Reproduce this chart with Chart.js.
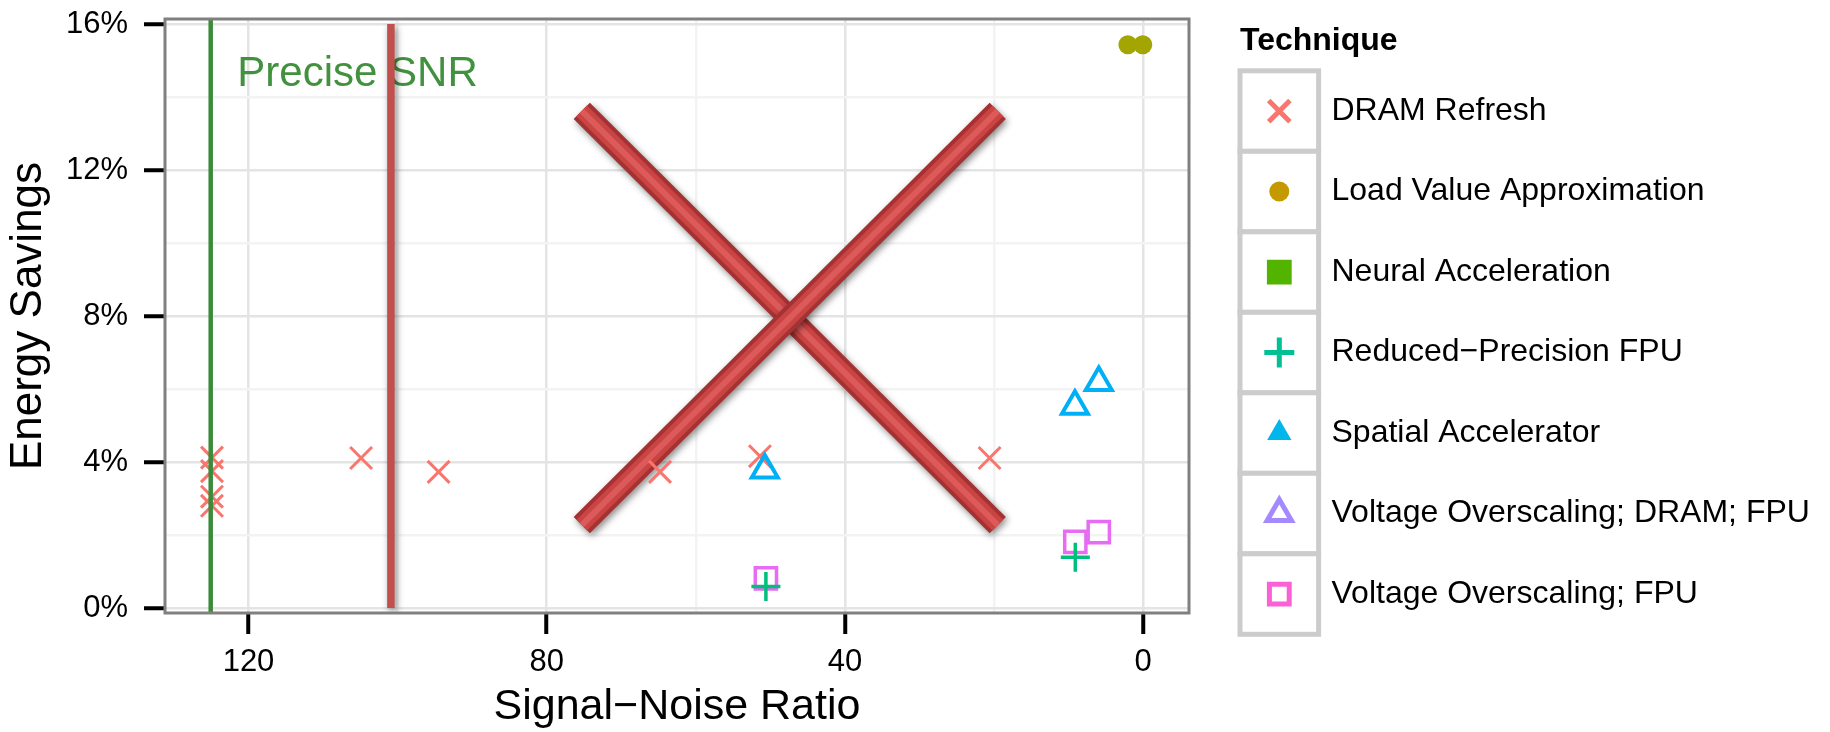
<!DOCTYPE html>
<html>
<head>
<meta charset="utf-8">
<script src="https://cdn.jsdelivr.net/npm/chart.js@4.4.0/dist/chart.umd.min.js"></script>
<style>
  html, body { margin: 0; padding: 0; background: #fff; }
  #wrap { width: 1830px; height: 732px; }
</style>
</head>
<body>
<div id="wrap"><canvas id="chart" width="1830" height="732"></canvas></div>
<script>
// values (x = SNR, y = energy savings in %)
const dramX = [124.9, 124.9, 124.9, 124.9, 104.9, 94.5, 64.8, 51.4, 20.6];
const dramY = [4.12, 3.75, 3.05, 2.8, 4.11, 3.73, 3.73, 4.16, 4.11];
const lvaX = [2.05, 0.05];
const lvaY = [15.43, 15.43];
const fpuX = [50.6, 9.1];
const fpuY = [0.59, 1.39];
const spatialX = [50.75, 9.15, 5.95];
const spatialY = [3.78, 5.53, 6.18];
const voFpuX = [50.6, 9.1, 5.95];
const voFpuY = [0.81, 1.81, 2.08];

// reference lines and the crossed-out overlay
const preciseSnr = 125.07;
const cutoffSnr = 100.9;
const cutoffY = [0, 16];
const armAX = [75.3, 19.5];
const armAY = [13.62, 2.27];
const armBX = [19.5, 75.3];
const armBY = [13.62, 2.27];
const noteX = 121.5;
const noteY = 14.3;

// axes
const xMin = -6.15, xMax = 131.2;
const yMin = -0.136, yMax = 16.136;
const xTicks = [120, 80, 40, 0];
const xMinor = [100, 60, 20];
const yTicks = [0, 4, 8, 12, 16];
const yMinor = [2, 6, 10, 14];

// legend
const legendLabels = [
  "DRAM Refresh",
  "Load Value Approximation",
  "Neural Acceleration",
  "Reduced\u2212Precision FPU",
  "Spatial Accelerator",
  "Voltage Overscaling; DRAM; FPU",
  "Voltage Overscaling; FPU",
];
const legendColors = ["#F8766D", "#C49A00", "#53B400", "#00C094", "#00B6EB", "#A58AFF", "#FB61D7"];
const legendShapes = ["crossRot", "circle", "rect", "cross", "triangle", "triangle", "rect"];
const legendFilled = [false, true, true, false, true, false, false];

const FONT = "'Liberation Sans', Arial, Helvetica, sans-serif";
Chart.defaults.font.family = FONT;
Chart.defaults.color = "#000";

const pts = (xs, ys) => xs.map((x, i) => ({ x: x, y: ys[i] }));

function lineSet(data, color, width, order, shadow) {
  return {
    data: data,
    showLine: true,
    borderColor: color,
    borderWidth: width,
    borderCapStyle: "butt",
    pointRadius: 0,
    pointHoverRadius: 0,
    fill: false,
    tension: 0,
    order: order,
    shadow: shadow,
  };
}

function pointSet(data, style, color, fill, radius, width, order) {
  return {
    data: data,
    pointStyle: style,
    pointRadius: radius,
    pointHoverRadius: radius,
    pointBorderWidth: width,
    borderColor: color,
    backgroundColor: fill,
    pointBackgroundColor: fill,
    pointBorderColor: color,
    order: order,
  };
}

const panelPlugin = {
  id: "panel",
  beforeDatasetsDraw(chart) {
    const c = chart.ctx;
    const x = chart.scales.x, y = chart.scales.y;
    c.save();
    c.fillStyle = "#41913f";
    c.font = "42px " + FONT;
    c.textBaseline = "alphabetic";
    c.textAlign = "left";
    c.fillText("Precise SNR", x.getPixelForValue(noteX), y.getPixelForValue(noteY));
    c.restore();
  },
  beforeDatasetDraw(chart, args) {
    const ds = chart.data.datasets[args.index];
    if (ds.shadow) {
      const c = chart.ctx;
      c.save();
      c.shadowColor = "rgba(0,0,0,0.45)";
      c.shadowBlur = 7;
      c.shadowOffsetX = 2;
      c.shadowOffsetY = 3;
    }
  },
  afterDatasetDraw(chart, args) {
    const ds = chart.data.datasets[args.index];
    if (ds.shadow) chart.ctx.restore();
  },
  afterDatasetsDraw(chart) {
    const c = chart.ctx;
    const a = chart.chartArea;
    c.save();
    c.strokeStyle = "#808080";
    c.lineWidth = 3;
    c.strokeRect(a.left, a.top, a.right - a.left, a.bottom - a.top);
    c.restore();
  },
  afterDraw(chart) {
    const c = chart.ctx;
    c.save();
    c.fillStyle = "#000";
    c.font = "bold 32px " + FONT;
    c.textBaseline = "alphabetic";
    c.fillText("Technique", 1240, 50);
    const cellTop = 70.8, cellH = 80.5, cellL = 1240, cellW = 78.6;
    for (let i = 0; i < legendLabels.length; i++) {
      const top = cellTop + i * cellH;
      c.fillStyle = "#fff";
      c.fillRect(cellL, top, cellW, cellH);
      c.strokeStyle = "#cccccc";
      c.lineWidth = 5;
      c.strokeRect(cellL, top, cellW, cellH);
    }
    for (let i = 0; i < legendLabels.length; i++) {
      const cy = cellTop + i * cellH + cellH / 2;
      const cx = cellL + cellW / 2;
      const shape = legendShapes[i];
      c.strokeStyle = legendColors[i];
      c.fillStyle = legendFilled[i] ? legendColors[i] : "rgba(0,0,0,0)";
      let r = 14, bw = 3;
      if (shape === "circle") { r = 10; bw = 0; }
      if (shape === "crossRot") { r = 15; bw = 3; }
      if (shape === "cross") { r = 15; bw = 3.5; }
      if (shape === "triangle" && legendFilled[i]) { r = 14; bw = 0; }
      Chart.helpers.drawPoint(c, { pointStyle: shape, rotation: 0, radius: r, borderWidth: bw }, cx, cy);
      c.fillStyle = "#000";
      c.font = "32px " + FONT;
      c.textBaseline = "middle";
      c.fillText(legendLabels[i], 1331.5, cy);
    }
    c.restore();
  },
};

const ctx = document.getElementById("chart").getContext("2d");

new Chart(ctx, {
  type: "scatter",
  data: {
    datasets: [
      lineSet(pts([preciseSnr, preciseSnr], [yMin, yMax]), "#3b8b3b", 4.5, 0, false),
      pointSet(pts(fpuX, fpuY), "cross", "#00BF7D", "rgba(0,0,0,0)", 14.5, 3.5, 1),
      pointSet(pts(voFpuX, voFpuY), "rect", "#E76BF3", "rgba(0,0,0,0)", 15, 3.5, 2),
      pointSet(pts(spatialX, spatialY), "triangle", "#00B0F6", "rgba(0,0,0,0)", 15, 4, 3),
      pointSet(pts(lvaX, lvaY), "circle", "#A3A500", "#A3A500", 9.5, 0, 4),
      pointSet(pts(dramX, dramY), "crossRot", "#F8766D", "rgba(0,0,0,0)", 15.5, 3, 5),
      lineSet(pts([cutoffSnr, cutoffSnr], cutoffY), "#c0504d", 7.5, 6, true),
      lineSet(pts(armBX, armBY), "#dc5a5a", 6, 8, false),
      lineSet(pts(armBX, armBY), "#ca4444", 15, 9, false),
      lineSet(pts(armBX, armBY), "#a53232", 23, 10, true),
      lineSet(pts(armAX, armAY), "#dc5a5a", 6, 11, false),
      lineSet(pts(armAX, armAY), "#ca4444", 15, 12, false),
      lineSet(pts(armAX, armAY), "#a53232", 23, 13, true),
    ],
  },
  options: {
    responsive: false,
    animation: false,
    events: [],
    layout: { padding: { top: 15, right: 641, bottom: 0, left: 0 } },
    plugins: {
      legend: { display: false },
      tooltip: { enabled: false },
    },
    scales: {
      x: {
        type: "linear",
        reverse: true,
        min: xMin,
        max: xMax,
        afterBuildTicks: (s) => {
          s.ticks = xTicks.concat(xMinor).sort((a, b) => a - b).map((v) => ({ value: v }));
        },
        afterFit: (s) => {
          s.height = 119;
          s.paddingLeft = 0;
          s.paddingRight = 0;
        },
        border: { display: false },
        grid: {
          color: (c) => (xTicks.includes(c.tick.value) ? "#e4e4e4" : "#f3f3f3"),
          lineWidth: 2.5,
          drawTicks: true,
          tickLength: 21,
          tickWidth: 4,
          tickColor: (c) => (xTicks.includes(c.tick.value) ? "#000" : "rgba(0,0,0,0)"),
        },
        ticks: {
          padding: 10,
          maxRotation: 0,
          autoSkip: false,
          color: "#000",
          font: { size: 31 },
          callback: (v) => (xTicks.includes(v) ? String(v) : ""),
        },
        title: {
          display: true,
          text: "Signal\u2212Noise Ratio",
          color: "#000",
          font: { size: 43, lineHeight: 1 },
          padding: { top: 0, bottom: 3 },
        },
      },
      y: {
        type: "linear",
        min: yMin,
        max: yMax,
        afterBuildTicks: (s) => {
          s.ticks = yTicks.concat(yMinor).sort((a, b) => a - b).map((v) => ({ value: v }));
        },
        afterFit: (s) => {
          s.width = 165;
          s.paddingTop = 0;
          s.paddingBottom = 0;
        },
        border: { display: false },
        grid: {
          color: (c) => (yTicks.includes(c.tick.value) ? "#e4e4e4" : "#f3f3f3"),
          lineWidth: 2.5,
          drawTicks: true,
          tickLength: 21,
          tickWidth: 4,
          tickColor: (c) => (yTicks.includes(c.tick.value) ? "#000" : "rgba(0,0,0,0)"),
        },
        ticks: {
          padding: 16,
          autoSkip: false,
          color: "#000",
          font: { size: 31 },
          callback: (v) => (yTicks.includes(v) ? v + "%" : ""),
        },
        title: {
          display: true,
          text: "Energy Savings",
          color: "#000",
          font: { size: 44, lineHeight: 1 },
          padding: { top: 7, bottom: 0 },
        },
      },
    },
  },
  plugins: [panelPlugin],
});
</script>
</body>
</html>
